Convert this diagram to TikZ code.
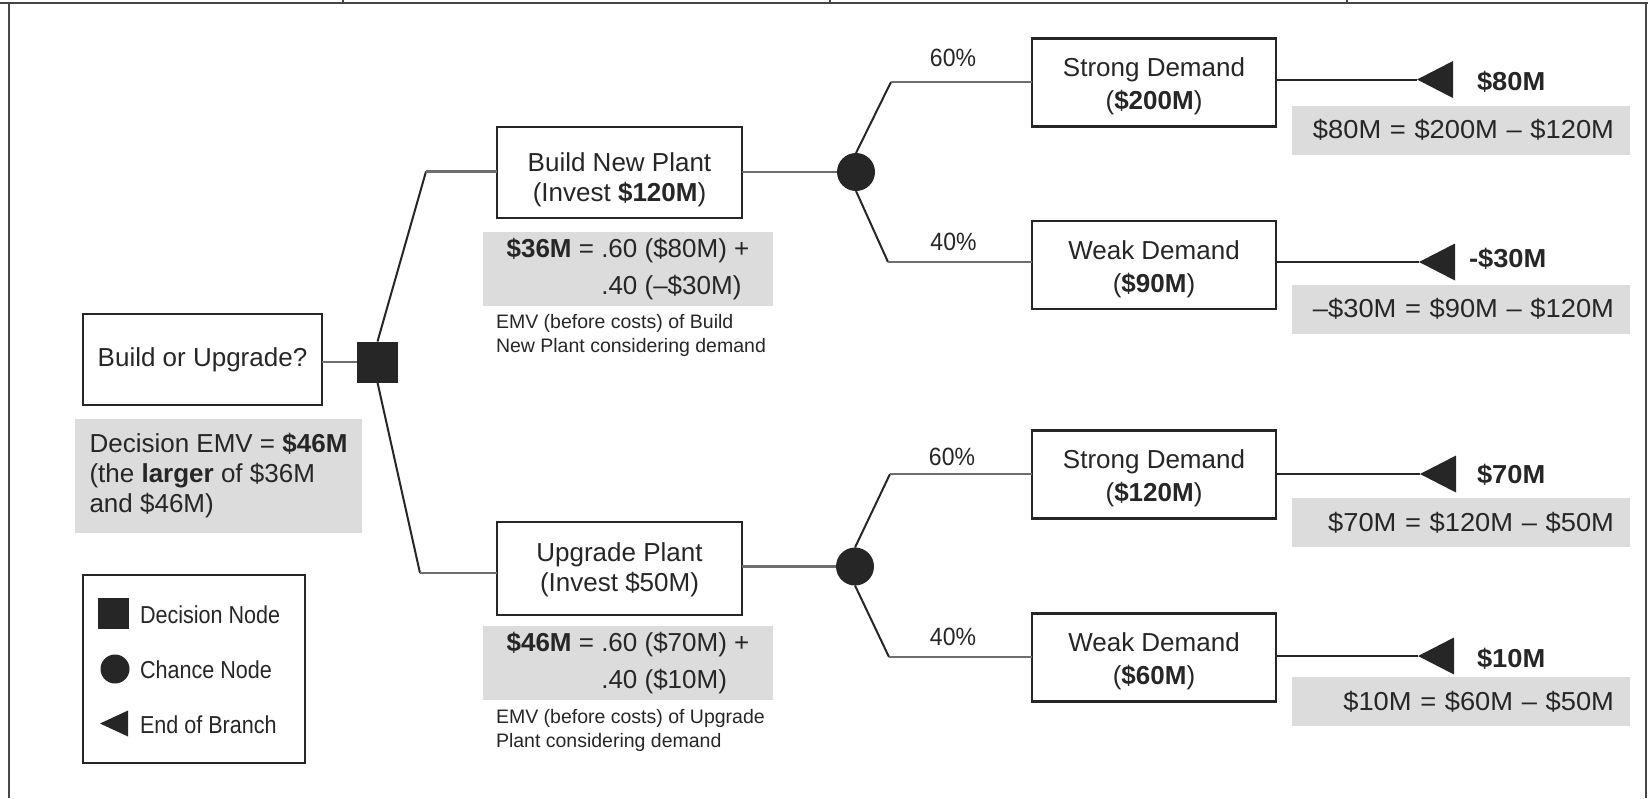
\documentclass[tikz,border=0pt]{standalone}
\usepackage{fontspec}
\setmainfont{Liberation Sans}
\newfontfamily\feq[FakeStretch=1.05]{Liberation Sans}
\newfontfamily\fleg[FakeStretch=0.88]{Liberation Sans}
\newfontfamily\fpct[FakeStretch=0.92]{Liberation Sans}
\definecolor{ink}{HTML}{262626}
\definecolor{boxgray}{HTML}{DCDCDC}
\definecolor{linegray}{HTML}{6E6E6E}
\newcommand\dtlower[2]{\raisebox{-#1}[\height][\depth]{#2}}
\begin{document}
\begin{tikzpicture}[x=1pt,y=-1pt,
  every node/.style={inner sep=0pt,outer sep=0pt,text=ink},
  dtframe/.style={draw=ink!85, line width=2.5pt},
  plainbox/.style={draw=ink, line width=2.6pt, fill=white, minimum width=245pt, font=\fontsize{26}{30}\selectfont},
  dembox/.style={draw=ink, line width=2.6pt, fill=white, minimum width=244pt, minimum height=88pt, font=\fontsize{26}{33}\selectfont},
  graybox/.style={fill=boxgray},
  resbox/.style={fill=boxgray, minimum height=49pt, text width=306pt, align=right, inner xsep=16pt, font=\feq\fontsize{26}{30}\selectfont},
  smallnote/.style={font=\fontsize{19.5}{24}\selectfont, anchor=base west},
  pcttext/.style={font=\fpct\fontsize{25}{30}\selectfont, anchor=base},
  valtext/.style={font=\feq\bfseries\fontsize{26}{30}\selectfont, anchor=base west},
  legtext/.style={font=\fleg\fontsize{24.5}{30}\selectfont, anchor=base west},
  branchline/.style={draw=ink, line width=2pt},
  stemline/.style={draw=linegray, line width=2.8pt},
  decnode/.style={fill=ink, minimum size=41pt},
  chnode/.style={circle, fill=ink, minimum size=38pt},
]
\useasboundingbox (0,0) rectangle (1648,798);
% frame
\draw[dtframe] (0,3) -- (1648,3);
\draw[dtframe] (9,3) -- (9,798);
\draw[dtframe] (1646,3) -- (1646,798);
\draw[dtframe] (343,0) -- (343,3);
\draw[dtframe] (830,0) -- (830,3);
\draw[dtframe] (1347,0) -- (1347,3);

% decision
\node[plainbox, minimum width=239pt, minimum height=91pt] (bu) at (202.5,359.5) {Build or Upgrade?};
\node[decnode] (dec) at (377.5,362) {};
\node[graybox, minimum width=287pt, minimum height=114pt, font=\fontsize{26}{30}\selectfont] (emv) at (218.5,476)
  {\begin{tabular}{@{}l@{}}Decision EMV = \textbf{\$46M}\\(the \textbf{larger} of \$36M\\and \$46M)\end{tabular}};

% alternatives
\node[plainbox, minimum height=91pt] (bnp) at (619.5,172.5)
  {\dtlower{8pt}{\begin{tabular}{@{}c@{}}Build New Plant\\(Invest \textbf{\$120M})\end{tabular}}};
\node[plainbox, minimum height=93pt] (upg) at (619.5,568.5)
  {\dtlower{2pt}{\begin{tabular}{@{}c@{}}Upgrade Plant\\(Invest \$50M)\end{tabular}}};
\node[graybox, minimum width=290pt, minimum height=72pt, font=\fontsize{26}{37}\selectfont] (g36) at (628,269)
  {\begin{tabular}{@{}l@{}}\textbf{\$36M} = .60 (\$80M) +\\\phantom{\textbf{\$36M} = }.40 (–\$30M)\end{tabular}};
\node[graybox, minimum width=290pt, minimum height=72pt, font=\fontsize{26}{37}\selectfont] (g46) at (628,663)
  {\begin{tabular}{@{}l@{}}\textbf{\$46M} = .60 (\$70M) +\\\phantom{\textbf{\$46M} = }.40 (\$10M)\end{tabular}};
\node[smallnote] (n1) at (496,328) {\begin{tabular}[t]{@{}l@{}}EMV (before costs) of Build\\New Plant considering demand\end{tabular}};
\node[smallnote] (n2) at (496,723) {\begin{tabular}[t]{@{}l@{}}EMV (before costs) of Upgrade\\Plant considering demand\end{tabular}};

% chance nodes
\node[chnode] (ch1) at (856,172) {};
\node[chnode] (ch2) at (855,566.5) {};

% outcomes
\node[dembox] (sd1) at (1154,82.5) {\dtlower{4pt}{\begin{tabular}{@{}c@{}}Strong Demand\\(\textbf{\$200M})\end{tabular}}};
\node[dembox] (wd1) at (1154,265) {\dtlower{4pt}{\begin{tabular}{@{}c@{}}Weak Demand\\(\textbf{\$90M})\end{tabular}}};
\node[dembox] (sd2) at (1154,474.5) {\dtlower{4pt}{\begin{tabular}{@{}c@{}}Strong Demand\\(\textbf{\$120M})\end{tabular}}};
\node[dembox] (wd2) at (1154,657.5) {\dtlower{4pt}{\begin{tabular}{@{}c@{}}Weak Demand\\(\textbf{\$60M})\end{tabular}}};

\node[pcttext] (p1) at (953,66) {60\%};
\node[pcttext] (p2) at (953.5,250.5) {40\%};
\node[pcttext] (p3) at (952,465) {60\%};
\node[pcttext] (p4) at (953,645) {40\%};

% results
\node[resbox] (r1) at (1461,130) {\$80M = \$200M – \$120M};
\node[resbox] (r2) at (1461,309) {–\$30M = \$90M – \$120M};
\node[resbox] (r3) at (1461,522.5) {\$70M = \$120M – \$50M};
\node[resbox] (r4) at (1461,701.5) {\$10M = \$60M – \$50M};
\node[valtext] (v1) at (1477,90) {\$80M};
\node[valtext] (v2) at (1469,267) {-\$30M};
\node[valtext] (v3) at (1477,483) {\$70M};
\node[valtext] (v4) at (1477,667) {\$10M};

% end-of-branch tips
\coordinate (t1) at (1417,79.5);
\coordinate (t2) at (1419,262);
\coordinate (t3) at (1420,474);
\coordinate (t4) at (1418,656);
\foreach \t in {t1,t2,t3,t4}{\fill[ink] (\t) -- ++(36,-18.5) -- ++(0,37) -- cycle;}

% connectors
\coordinate (c1) at (426,171.5);
\coordinate (c2) at (420,573);
\coordinate (c3) at (891,82);
\coordinate (c4) at (888,262);
\coordinate (c5) at (890,474);
\coordinate (c6) at (889,657);
\draw[stemline] (bu.east |- dec) -- (dec.west);
\draw[branchline] (dec.north) -- (c1);
\draw[stemline] (c1) -- (c1 -| bnp.west);
\draw[branchline] (dec.south) -- (c2);
\draw[stemline] (c2) -- (c2 -| upg.west);
\draw[stemline] (bnp.east |- ch1) -- (ch1.west);
\draw[stemline] (upg.east |- ch2) -- (ch2.west);
\draw[branchline] (ch1.north) -- (c3);
\draw[stemline] (c3) -- (c3 -| sd1.west);
\draw[branchline] (ch1.south) -- (c4);
\draw[stemline] (c4) -- (c4 -| wd1.west);
\draw[branchline] (ch2.north) -- (c5);
\draw[stemline] (c5) -- (c5 -| sd2.west);
\draw[branchline] (ch2.south) -- (c6);
\draw[stemline] (c6) -- (c6 -| wd2.west);
\draw[branchline] (t1 -| sd1.east) -- (t1);
\draw[branchline] (t2 -| wd1.east) -- (t2);
\draw[branchline] (t3 -| sd2.east) -- (t3);
\draw[branchline] (t4 -| wd2.east) -- (t4);

% legend
\node[draw=ink, line width=2.4pt, minimum width=222pt, minimum height=188pt] (leg) at (194,669) {};
\node[fill=ink, minimum size=31pt] (lsq) at (113.5,613.5) {};
\node[circle, fill=ink, minimum size=29pt] (lci) at (115,669) {};
\coordinate (ltri) at (100,723.5);
\fill[ink] (ltri) -- ++(28,-13) -- ++(0,26) -- cycle;
\node[legtext] (l1) at (140,623) {Decision Node};
\node[legtext] (l2) at (140,678) {Chance Node};
\node[legtext] (l3) at (140,733) {End of Branch};
\end{tikzpicture}
\end{document}
